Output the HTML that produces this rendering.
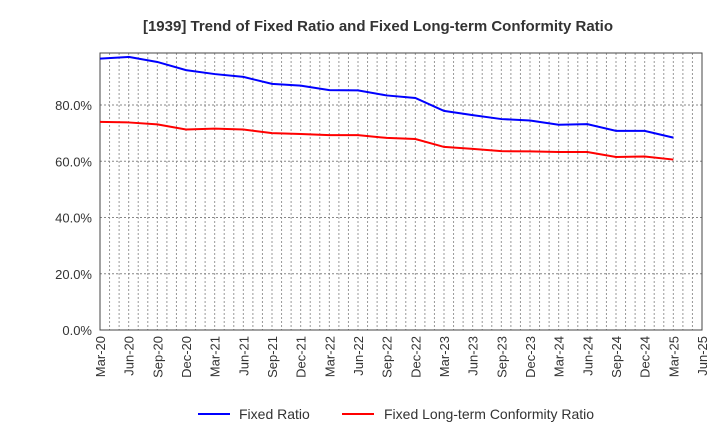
<!DOCTYPE html>
<html><head><meta charset="utf-8"><style>
body{margin:0;background:#fff;font-family:"Liberation Sans",Arial,sans-serif}
</style></head><body>
<svg id="chart" width="720" height="440" xmlns="http://www.w3.org/2000/svg" font-family="Liberation Sans, Arial, sans-serif">
<text x="378" y="31" text-anchor="middle" font-size="15" font-weight="bold" fill="#333">[1939]  Trend of Fixed Ratio and Fixed Long-term Conformity Ratio</text>
<g id="grid"></g><g id="axes"></g><g id="series"></g>
<g>
<line x1="198" y1="414" x2="230" y2="414" stroke="#0000ff" stroke-width="2"/>
<text x="239" y="419" font-size="14" fill="#333">Fixed Ratio</text>
<line x1="342" y1="414" x2="374" y2="414" stroke="#ff0000" stroke-width="2"/>
<text x="384" y="419" font-size="14" fill="#333">Fixed Long-term Conformity Ratio</text>
</g>
</svg>
<script>
const categories=["Mar-20","Jun-20","Sep-20","Dec-20","Mar-21","Jun-21","Sep-21","Dec-21","Mar-22","Jun-22","Sep-22","Dec-22","Mar-23","Jun-23","Sep-23","Dec-23","Mar-24","Jun-24","Sep-24","Dec-24","Mar-25","Jun-25"];
const fixedRatio=[96.5,97.1,95.3,92.4,91,90,87.5,86.9,85.3,85.2,83.4,82.5,77.9,76.4,75,74.5,73,73.2,70.8,70.8,68.4];
const conformityRatio=[74,73.8,73.1,71.3,71.6,71.3,70,69.7,69.3,69.3,68.3,67.9,65.1,64.4,63.6,63.5,63.3,63.3,61.5,61.7,60.6];
const yTicks=[0,20,40,60,80];
const L=100,R=702,T=53,B=330;
const x=i=>L+i*(R-L)/(categories.length-1);
const y=v=>B-v*(B-105)/80;
const ns="http://www.w3.org/2000/svg";
function mk(tag,attrs,parent){const e=document.createElementNS(ns,tag);for(const k in attrs)e.setAttribute(k,attrs[k]);document.getElementById(parent).appendChild(e);return e;}
// monthly vertical grid
for(let m=1;m<(categories.length-1)*3;m++){const xx=L+m*(R-L)/((categories.length-1)*3);
const g=mk("line",{x1:xx,x2:xx,y1:T,y2:B,stroke:"#999","stroke-dasharray":"2,2","stroke-width":1},"grid");

}
yTicks.forEach(v=>{if(v>0){const g=mk("line",{x1:L,x2:R,y1:y(v),y2:y(v),stroke:"#888","stroke-dasharray":"2,2"},"grid");

}
const t=mk("text",{x:L-8,y:y(v)+5,"text-anchor":"end","font-size":13,fill:"#333"},"axes");t.textContent=v.toFixed(1)+"%";

});
const fr=mk("rect",{x:L,y:T,width:R-L,height:B-T,fill:"none",stroke:"#444","stroke-width":1},"axes");


categories.forEach((c,i)=>{const t=mk("text",{transform:`translate(${x(i)+5},336) rotate(-90)`,"text-anchor":"end","font-size":13,fill:"#333"},"axes");t.textContent=c;

});
function line(data,color,name){const p=mk("polyline",{points:data.map((v,i)=>x(i)+","+y(v)).join(" "),fill:"none",stroke:color,"stroke-width":2},"series");

}
line(fixedRatio,"#0000ff","fixed-ratio-line");
line(conformityRatio,"#ff0000","conformity-ratio-line");
</script>
</body></html>
